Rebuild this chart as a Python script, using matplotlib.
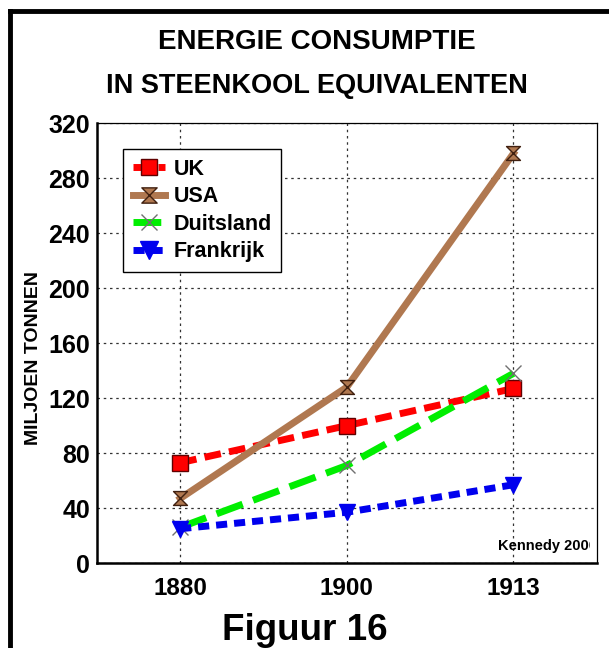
import numpy as np
import matplotlib.pyplot as plt
from matplotlib.path import Path
from matplotlib.lines import Line2D
from matplotlib.transforms import Bbox, TransformedBbox

plt.rcParams['font.family'] = ['Liberation Sans', 'DejaVu Sans']
plt.rcParams['font.weight'] = 'bold'

years = ['1880', '1900', '1913']
uk = [73, 100, 127]
usa = [47, 128, 298]
duitsland = [26, 71, 138]
frankrijk = [25, 37, 57]
yticks = [0, 40, 80, 120, 160, 200, 240, 280, 320]

fig = plt.figure(figsize=(6.09, 6.48), dpi=100)
ax = fig.add_axes([0.159, 0.131, 0.821, 0.679])
x = np.arange(len(years))

# hourglass marker for USA
hg = Path([(-1, 1), (1, 1), (-1, -1), (1, -1), (-1, 1)],
          [Path.MOVETO, Path.LINETO, Path.LINETO, Path.LINETO, Path.CLOSEPOLY])

ax.plot(x, uk, color='#ff0000', lw=5, dashes=(2.4, 1.2), marker='s', ms=11,
        mfc='#ff0000', mec='#600000', mew=1, label='UK', zorder=3)
ax.plot(x, usa, color='#b07850', lw=5, marker=hg, ms=10,
        mfc='#b07850', mec='#402010', mew=1, label='USA', zorder=3)
ax.plot(x, duitsland, color='#00ee00', lw=5, dashes=(4, 1.6), marker='x', ms=11,
        mec='#707070', mew=1, label='Duitsland', zorder=3)
ax.plot(x, frankrijk, color='#0000ee', lw=5, dashes=(1.6, 1), marker='v', ms=12,
        mfc='#0000ee', mec='#0000ee', label='Frankrijk', zorder=3)

ax.set_xlim(-0.5, 2.5)
ax.set_ylim(0, 320)
ax.set_xticks(x)
ax.set_xticklabels(years, fontsize=17.5, fontweight='bold')
ax.set_yticks(yticks)
ax.set_yticklabels([str(v) for v in yticks], fontsize=18, fontweight='bold')
ax.tick_params(axis='y', length=0, pad=5)
ax.tick_params(axis='x', length=0, pad=10)
ax.grid(True, color='#333333', linestyle=(0, (2, 3)), lw=0.9)
ax.set_ylabel('MILJOEN TONNEN', fontsize=14, fontweight='bold')
ax.yaxis.set_label_coords(-0.11, 0.466)
for s in ['top', 'right']:
    ax.spines[s].set_linewidth(0.9)
for s in ['left', 'bottom']:
    ax.spines[s].set_linewidth(1.8)

leg = ax.legend(loc='upper left', bbox_to_anchor=(0.052, 0.941), fontsize=15.5,
                frameon=True, fancybox=False, edgecolor='black', framealpha=1,
                handlelength=1.5, handletextpad=0.4, labelspacing=0.3,
                borderpad=0.45, borderaxespad=0, markerscale=1.1)
leg.get_frame().set_linewidth(1.0)
for t in leg.get_texts():
    t.set_fontweight('bold')

# source note, clipped at the right like the original
kt = ax.text(1.91, 7, 'Kennedy 2000', fontsize=10.5, fontweight='bold',
             ha='left', va='bottom')
kt.set_clip_box(TransformedBbox(Bbox([[0, 0], [590 / 609, 1]]), fig.transFigure))
kt.set_clip_on(True)

fig.text(0.52, 0.935, 'ENERGIE CONSUMPTIE', ha='center', va='center',
         fontsize=20, fontweight='bold')
fig.text(0.52, 0.868, 'IN STEENKOOL EQUIVALENTEN', ha='center', va='center',
         fontsize=19.5, fontweight='bold')
fig.text(0.5, 0.027, 'Figuur 16', ha='center', va='center',
         fontsize=26.5, fontweight='bold')

# page frame lines (top and left)
fig.add_artist(Line2D([0.016, 1.0], [0.983, 0.983], color='black', lw=3.5,
                      transform=fig.transFigure))
fig.add_artist(Line2D([0.016, 0.016], [0.0, 0.983], color='black', lw=3.5,
                      transform=fig.transFigure))

fig.savefig('out.png', dpi=100)
